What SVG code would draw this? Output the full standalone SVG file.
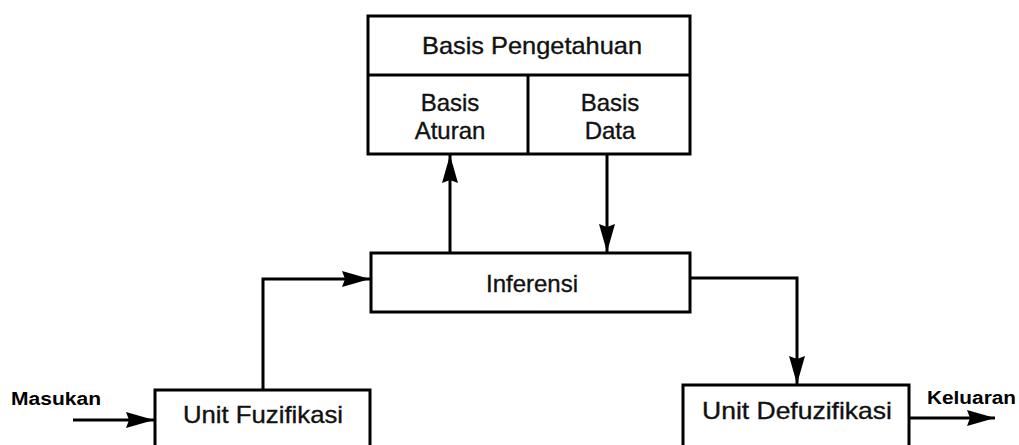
<svg xmlns="http://www.w3.org/2000/svg" width="1019" height="445" viewBox="0 0 1019 445">
<style>
.box{fill:#fff;stroke:#000;stroke-width:3}
.t{font-family:"Liberation Sans",Arial,sans-serif;font-size:24px;fill:#111;stroke:#111;stroke-width:0.35;text-anchor:middle}
.b{font-family:"Liberation Sans",Arial,sans-serif;font-size:18px;font-weight:bold;fill:#000}
.c{fill:none;stroke:#000;stroke-width:3}
</style>
<defs>
<marker id="ah" markerUnits="userSpaceOnUse" markerWidth="32" markerHeight="18" refX="28" refY="8" orient="auto">
<path d="M0,0 L28,8 L0,16 L3,8 z" fill="#000"/>
</marker>
</defs>
<rect width="1019" height="445" fill="#fff"/>
<g id="basis-pengetahuan">
<rect class="box" x="368" y="16" width="322" height="138"/>
<line x1="368" y1="75" x2="690" y2="75" stroke="#000" stroke-width="3"/>
<line x1="528" y1="75" x2="528" y2="154" stroke="#000" stroke-width="3"/>
<text class="t" x="532" y="54" textLength="220" lengthAdjust="spacingAndGlyphs">Basis Pengetahuan</text>
</g>
<g id="basis-aturan">
<text class="t" x="450" y="111">Basis</text>
<text class="t" x="450" y="139">Aturan</text>
</g>
<g id="basis-data">
<text class="t" x="610" y="111">Basis</text>
<text class="t" x="610" y="139">Data</text>
</g>
<g id="inferensi">
<rect class="box" x="371" y="253" width="319" height="59"/>
<text class="t" x="532" y="292">Inferensi</text>
</g>
<g id="unit-fuzifikasi">
<rect class="box" x="155" y="390" width="215" height="70"/>
<text class="t" x="263" y="423" textLength="160" lengthAdjust="spacingAndGlyphs">Unit Fuzifikasi</text>
</g>
<g id="unit-defuzifikasi">
<rect class="box" x="683" y="385" width="226" height="75"/>
<text class="t" x="797" y="419" textLength="190" lengthAdjust="spacingAndGlyphs">Unit Defuzifikasi</text>
</g>
<g id="masukan">
<text class="b" x="11" y="405" textLength="90" lengthAdjust="spacingAndGlyphs">Masukan</text>
</g>
<g id="keluaran">
<text class="b" x="927" y="404" textLength="89" lengthAdjust="spacingAndGlyphs">Keluaran</text>
</g>
<g id="connectors">
<line class="c" x1="450" y1="253" x2="450" y2="155" marker-end="url(#ah)"/>
<line class="c" x1="607" y1="154" x2="607" y2="252" marker-end="url(#ah)"/>
<polyline class="c" points="263,390 263,279 370,279" marker-end="url(#ah)"/>
<polyline class="c" points="690,278 797,278 797,384" marker-end="url(#ah)"/>
<line class="c" x1="73" y1="420" x2="154" y2="420" marker-end="url(#ah)"/>
<line class="c" x1="909" y1="418" x2="995" y2="418" marker-end="url(#ah)"/>
</g>
</svg>
